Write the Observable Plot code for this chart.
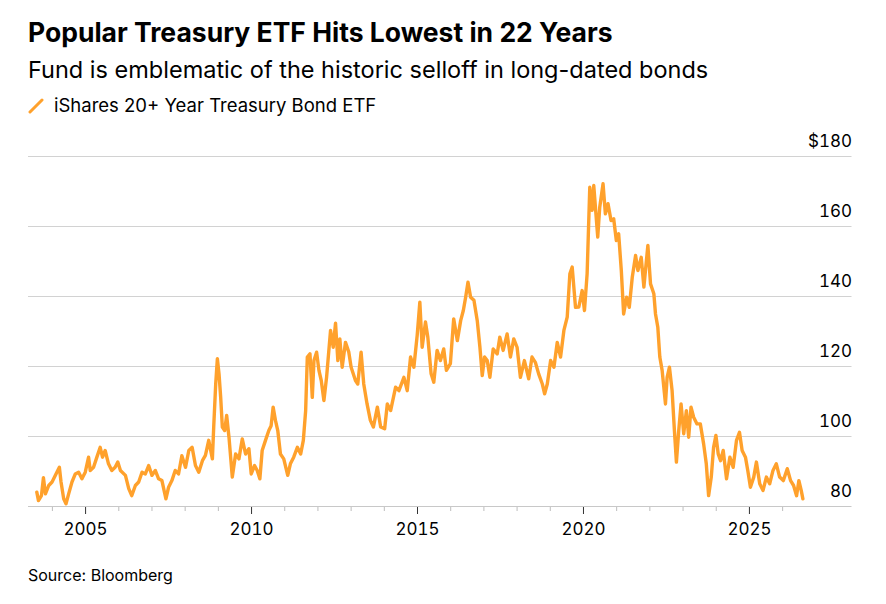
<!DOCTYPE html>
<html>
<head>
<meta charset="utf-8">
<script src="https://cdn.jsdelivr.net/npm/d3@7"></script>
<script src="https://cdn.jsdelivr.net/npm/@observablehq/plot@0.6"></script>
<style>
  body { margin: 0; background: #fff; }
  #wrap { position: relative; width: 886px; height: 604px; font-family: Inter, "Liberation Sans", Arial, sans-serif; color: #000; }
  .t { position: absolute; left: 28px; white-space: nowrap; line-height: 1; }
  #title { top: 19px; font-size: 26.5px; font-weight: 700; }
  #subtitle { top: 58px; font-size: 23.5px; }
  #legend { top: 96px; font-size: 18.5px; left: 28px; }
  #legend svg { position: absolute; left: 0; top: 1px; }
  #legend span { position: absolute; left: 26px; top: 0; }
  #source { top: 567px; font-size: 16px; }
  #chart { position: absolute; left: 0; top: 120px; }
</style>
</head>
<body>
<div id="wrap">
  <div class="t" id="title">Popular Treasury ETF Hits Lowest in 22 Years</div>
  <div class="t" id="subtitle">Fund is emblematic of the historic selloff in long-dated bonds</div>
  <div class="t" id="legend"><svg width="18" height="18"><line x1="2" y1="15" x2="14" y2="3" stroke="#ffa12c" stroke-width="3" stroke-linecap="round"/></svg><span>iShares 20+ Year Treasury Bond ETF</span></div>
  <div id="chart"></div>
  <div class="t" id="source">Source: Bloomberg</div>
</div>
<script>
const years = [
  2003.53, 2003.58, 2003.67, 2003.73, 2003.79, 2003.89, 2003.99, 2004.09, 2004.21, 2004.26,
  2004.34, 2004.41, 2004.49, 2004.59, 2004.69, 2004.79, 2004.89, 2004.99, 2005.09, 2005.14,
  2005.24, 2005.34, 2005.44, 2005.51, 2005.59, 2005.69, 2005.79, 2005.89, 2005.97, 2006.05,
  2006.20, 2006.30, 2006.39, 2006.50, 2006.60, 2006.70, 2006.80, 2006.90, 2007.00, 2007.10,
  2007.20, 2007.30, 2007.42, 2007.50, 2007.60, 2007.70, 2007.80, 2007.90, 2008.01, 2008.11,
  2008.21, 2008.31, 2008.41, 2008.52, 2008.61, 2008.71, 2008.82, 2008.86, 2008.92, 2008.97,
  2009.02, 2009.07, 2009.12, 2009.19, 2009.25, 2009.32, 2009.42, 2009.52, 2009.62, 2009.72,
  2009.82, 2009.92, 2009.99, 2010.09, 2010.17, 2010.25, 2010.32, 2010.42, 2010.52, 2010.59,
  2010.65, 2010.72, 2010.79, 2010.87, 2010.97, 2011.09, 2011.17, 2011.27, 2011.38, 2011.48,
  2011.56, 2011.63, 2011.68, 2011.76, 2011.83, 2011.88, 2011.96, 2012.03, 2012.10, 2012.18,
  2012.26, 2012.38, 2012.46, 2012.53, 2012.60, 2012.66, 2012.73, 2012.83, 2012.93, 2013.00,
  2013.13, 2013.20, 2013.30, 2013.38, 2013.48, 2013.58, 2013.67, 2013.79, 2013.89, 2014.01,
  2014.09, 2014.19, 2014.34, 2014.44, 2014.59, 2014.69, 2014.79, 2014.89, 2014.99, 2015.07,
  2015.14, 2015.24, 2015.31, 2015.41, 2015.49, 2015.59, 2015.69, 2015.79, 2015.87, 2015.99,
  2016.09, 2016.20, 2016.30, 2016.38, 2016.45, 2016.52, 2016.60, 2016.70, 2016.80, 2016.88,
  2016.95, 2017.02, 2017.10, 2017.18, 2017.28, 2017.40, 2017.48, 2017.58, 2017.70, 2017.80,
  2017.90, 2018.00, 2018.10, 2018.22, 2018.35, 2018.45, 2018.55, 2018.65, 2018.76, 2018.83,
  2018.91, 2019.01, 2019.11, 2019.21, 2019.31, 2019.41, 2019.51, 2019.59, 2019.66, 2019.76,
  2019.86, 2019.96, 2020.03, 2020.11, 2020.19, 2020.26, 2020.31, 2020.36, 2020.43, 2020.49,
  2020.59, 2020.66, 2020.74, 2020.83, 2020.91, 2020.99, 2021.06, 2021.14, 2021.21, 2021.30,
  2021.38, 2021.47, 2021.57, 2021.64, 2021.74, 2021.82, 2021.94, 2022.02, 2022.12, 2022.17,
  2022.24, 2022.30, 2022.37, 2022.42, 2022.47, 2022.52, 2022.59, 2022.67, 2022.74, 2022.80,
  2022.87, 2022.94, 2023.02, 2023.10, 2023.17, 2023.24, 2023.32, 2023.42, 2023.52, 2023.62,
  2023.70, 2023.77, 2023.85, 2023.92, 2023.99, 2024.06, 2024.13, 2024.21, 2024.31, 2024.41,
  2024.51, 2024.61, 2024.70, 2024.78, 2024.88, 2024.95, 2025.03, 2025.13, 2025.21, 2025.31,
  2025.41, 2025.51, 2025.61, 2025.71, 2025.81, 2025.91, 2026.02, 2026.14, 2026.24, 2026.33,
  2026.42, 2026.49, 2026.56, 2026.61
];
const prices = [
  84.1, 81.7, 83.1, 88.2, 83.6, 86.0, 87.0, 88.9, 91.2, 87.0,
  82.2, 80.8, 83.6, 87.0, 89.3, 89.8, 87.9, 89.8, 94.1, 90.3,
  91.2, 94.1, 96.9, 94.1, 96.0, 92.2, 90.3, 91.2, 92.7, 90.3,
  88.9, 85.1, 83.1, 86.0, 87.0, 89.8, 89.3, 91.7, 88.9, 90.3,
  87.9, 87.4, 82.2, 85.5, 87.4, 90.3, 89.3, 94.5, 91.2, 96.0,
  96.9, 91.7, 89.8, 93.1, 94.6, 98.9, 93.6, 102.7, 115.0, 122.2,
  117.9, 111.2, 102.7, 101.7, 106.0, 99.8, 88.4, 95.0, 93.6, 99.3,
  95.0, 96.5, 89.3, 91.7, 90.3, 87.9, 96.0, 98.9, 101.7, 103.1,
  108.4, 104.6, 101.7, 95.0, 93.6, 88.9, 92.2, 94.1, 96.9, 95.0,
  98.9, 107.4, 122.7, 123.6, 111.2, 121.7, 124.1, 118.9, 116.0, 110.3,
  116.9, 130.3, 125.5, 132.4, 121.7, 127.9, 119.8, 126.9, 124.1, 119.8,
  116.0, 115.0, 124.1, 115.0, 109.3, 104.6, 102.7, 108.4, 102.7, 102.2,
  109.3, 107.4, 114.1, 113.1, 116.9, 113.1, 122.7, 119.8, 128.9, 138.4,
  125.5, 132.7, 128.4, 117.9, 115.5, 124.6, 121.7, 125.0, 118.9, 120.8,
  133.6, 127.4, 133.1, 136.0, 139.8, 144.1, 139.8, 138.9, 133.1, 125.5,
  117.4, 122.7, 121.7, 116.9, 125.0, 123.6, 128.4, 124.6, 129.3, 122.7,
  127.9, 125.5, 116.9, 121.7, 116.5, 122.7, 121.2, 117.9, 115.0, 112.2,
  115.0, 121.7, 119.8, 126.9, 122.7, 130.3, 134.1, 146.5, 148.4, 136.9,
  137.0, 141.7, 136.0, 146.5, 171.2, 164.6, 171.7, 165.5, 157.0, 165.5,
  172.2, 163.6, 166.5, 161.7, 162.2, 156.0, 157.9, 147.4, 135.0, 139.8,
  136.9, 145.5, 151.7, 147.4, 151.2, 142.7, 154.6, 143.6, 140.8, 135.0,
  131.2, 122.7, 118.9, 114.1, 109.3, 116.9, 119.8, 113.1, 101.7, 92.7,
  101.7, 109.3, 100.8, 107.4, 99.8, 108.4, 105.5, 103.6, 103.6, 97.9,
  92.2, 83.1, 88.4, 96.9, 100.3, 95.0, 93.1, 96.0, 87.9, 94.1,
  91.2, 98.9, 101.2, 96.0, 94.1, 90.3, 85.5, 88.4, 92.7, 86.5,
  84.6, 88.4, 86.5, 90.3, 92.2, 88.4, 87.4, 90.8, 87.4, 86.0,
  83.1, 87.4, 84.6, 82.2
];
const majorYears = [2005, 2010, 2015, 2020, 2025];
const minorYears = [2004, 2006, 2007, 2008, 2009, 2011, 2012, 2013, 2014, 2016, 2017, 2018, 2019, 2021, 2022, 2023, 2024, 2026];
const yTicks = [80, 100, 120, 140, 160, 180];
const xDomain = [2003.28, 2028.09];
const yDomain = [80, 180];

const data = years.map((t, i) => ({t, p: prices[i]}));

const chart = Plot.plot({
  width: 886,
  height: 440,
  marginLeft: 28,
  marginRight: 34.5,
  marginTop: 36,
  marginBottom: 54,
  x: {domain: xDomain},
  y: {domain: yDomain},
  style: {fontFamily: "Inter, 'Liberation Sans', Arial, sans-serif", fontSize: "17px", color: "#000", background: "#fff"},
  marks: [
    Plot.gridY(yTicks.filter(d => d > 80), {stroke: "#d2d2d2", strokeOpacity: 1}),
    Plot.axisX(minorYears, {tickSize: 5, stroke: "#bdbdbd", tickFormat: () => "", label: null}),
    Plot.axisX(majorYears, {tickSize: 8, tickPadding: 8, stroke: "#333", tickFormat: d => String(d), label: null}),
    Plot.ruleY([80], {stroke: "#c8c8c8"}),
    Plot.line(data, {x: "t", y: "p", stroke: "#ffa12c", strokeWidth: 3.4, strokeLinejoin: "round"}),
    Plot.axisY(yTicks, {anchor: "right", tickSize: 0, tickPadding: 0, textAnchor: "end", dy: -15, tickFormat: d => d === 180 ? "$180" : String(d), label: null})
  ]
});
document.getElementById("chart").appendChild(chart);
</script>
</body>
</html>
